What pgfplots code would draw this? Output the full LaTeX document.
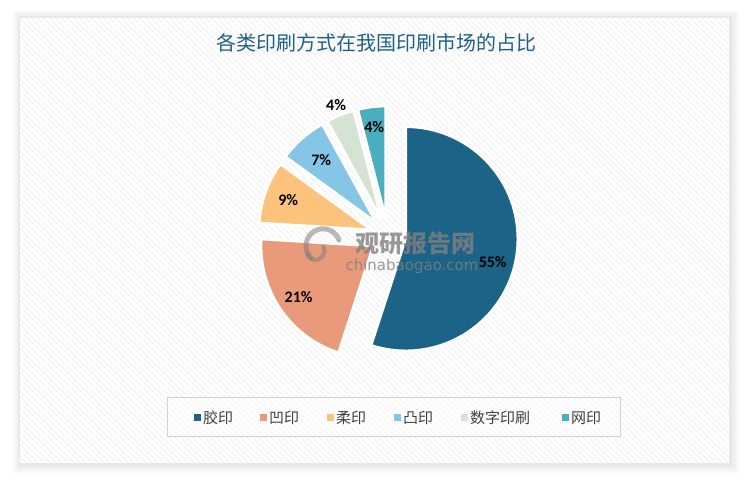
\documentclass[border=0pt]{standalone}
\usepackage{fontspec}
\setmainfont{Carlito}
\newfontfamily\cjk{Noto Sans CJK SC}
\newfontfamily\wmfont{DejaVu Sans}
\usepackage{pgfplots}
\usepackage{pgfplotstable}
\pgfplotsset{compat=1.18}
\usetikzlibrary{patterns.meta}

\definecolor{c0}{HTML}{1B6387}
\definecolor{c1}{HTML}{E89A7B}
\definecolor{c2}{HTML}{FDC37C}
\definecolor{c3}{HTML}{85C6E6}
\definecolor{c4}{HTML}{D4E3D2}
\definecolor{c5}{HTML}{49AEBD}
\definecolor{titlec}{HTML}{1F6185}
\definecolor{legtxt}{HTML}{404040}

\pgfplotstableread{
name value labdist labrot
胶印 55 90 -6
凹印 21 90 0
柔印 9 88 0
凸印 7 83 0
数字印刷 4 123 0
网印 4 92 0
}\piedata

% pie geometry (in pt = px)
\def\pcx{388}
\def\pcy{246}
\def\prad{112}
\def\pexp{18}

\newcommand\computepie{%
  \gdef\pcum{0}%
  \foreach \i in {0,...,5}{%
    \pgfplotstablegetelem{\i}{value}\of\piedata
    \let\pv\pgfplotsretval
    \pgfplotstablegetelem{\i}{labdist}\of\piedata
    \let\pl\pgfplotsretval
    \pgfplotstablegetelem{\i}{labrot}\of\piedata
    \let\pr\pgfplotsretval
    \pgfmathsetmacro\pA{90-3.6*\pcum}%
    \pgfmathsetmacro\pB{90-3.6*(\pcum+\pv)}%
    \pgfmathsetmacro\pM{(\pA+\pB)/2}%
    \pgfmathsetmacro\pX{\pcx+\pexp*cos(\pM)}%
    \pgfmathsetmacro\pY{\pcy+\pexp*sin(\pM)}%
    \pgfmathsetmacro\pLX{\pX+\pl*cos(\pM+\pr)}%
    \pgfmathsetmacro\pLY{\pY+\pl*sin(\pM+\pr)}%
    \expandafter\xdef\csname sa\i\endcsname{\pA}%
    \expandafter\xdef\csname sb\i\endcsname{\pB}%
    \expandafter\xdef\csname sx\i\endcsname{\pX}%
    \expandafter\xdef\csname sy\i\endcsname{\pY}%
    \expandafter\xdef\csname lx\i\endcsname{\pLX}%
    \expandafter\xdef\csname ly\i\endcsname{\pLY}%
    \pgfmathtruncatemacro\pVi{\pv}%
    \expandafter\xdef\csname sv\i\endcsname{\pVi}%
    \pgfmathsetmacro\pC{\pcum+\pv}%
    \xdef\pcum{\pC}%
  }}

\newcommand\legitem[3]{%
  \fill[fill=#2] (axis cs:#1-3.5,60.5) rectangle (axis cs:#1+3.5,67.5);
  \node[anchor=west, inner sep=0pt, text=legtxt, font=\cjk\fontsize{15}{18}\selectfont]
    at (axis cs:#1+6,64) {#3};}

\begin{document}
\computepie
\begin{tikzpicture}
\begin{axis}[scale only axis, width=750pt, height=482pt,
  xmin=0, xmax=750, ymin=0, ymax=482, hide axis, clip=false]
% page background
\fill[white] (axis cs:0,0) rectangle (axis cs:750,482);
% soft shadow of panel
\fill[black, opacity=0.015] (axis cs:12,8) rectangle (axis cs:740,472);
\fill[black, opacity=0.015] (axis cs:14,10) rectangle (axis cs:738,470);
\fill[black, opacity=0.02] (axis cs:16,12) rectangle (axis cs:736,469);
\fill[black, opacity=0.02] (axis cs:18,14) rectangle (axis cs:734,467);
\fill[black, opacity=0.025] (axis cs:19,16) rectangle (axis cs:732,466);
% panel
\fill[white] (axis cs:20,19) rectangle (axis cs:729,464);
\fill[pattern={Lines[angle=-45,distance=4pt,line width=1.3pt]}, pattern color=black!5]
  (axis cs:20,19) rectangle (axis cs:729,464);
% pie slices
\pgfplotsinvokeforeach{0,...,5}{
  \fill[fill=c#1, draw=white, line width=2.5pt, line join=round]
    (axis cs:\csname sx#1\endcsname,\csname sy#1\endcsname)
    -- +(\csname sa#1\endcsname:\prad pt)
    arc[start angle=\csname sa#1\endcsname, end angle=\csname sb#1\endcsname, radius=\prad pt]
    -- cycle;
}
% watermark
\draw[black!50, opacity=0.55, line width=5pt, line cap=round]
  (axis cs:339,242) arc[start angle=20, end angle=225, radius=17pt];
\draw[black!50, opacity=0.55, line width=4pt, line cap=round]
  (axis cs:307,228) arc[start angle=200, end angle=390, radius=9pt];
\node[text=black!50, opacity=0.8, font=\cjk\bfseries\fontsize{24}{28}\selectfont]
  at (axis cs:415,239) {观研报告网};
\node[text=black!50, opacity=0.8, font=\wmfont\fontsize{15}{18}\selectfont]
  at (axis cs:412,216) {chinabaogao.com};
% data labels
\pgfplotsinvokeforeach{0,...,5}{
  \node[font=\bfseries\fontsize{16}{18}\selectfont, text=black]
    at (axis cs:\csname lx#1\endcsname,\csname ly#1\endcsname) {\csname sv#1\endcsname\%};
}
% title
\node[font=\cjk\fontsize{20}{24}\selectfont, text=titlec] at (axis cs:376,439)
  {各类印刷方式在我国印刷市场的占比};
% legend
\draw[black!18, line width=1pt, fill=white, fill opacity=0.4] (axis cs:167,45) rectangle (axis cs:620,84);
\legitem{197}{c0}{胶印}
\legitem{263}{c1}{凹印}
\legitem{330}{c2}{柔印}
\legitem{397}{c3}{凸印}
\legitem{464}{c4}{数字印刷}
\legitem{565}{c5}{网印}
\end{axis}
\end{tikzpicture}
\end{document}
